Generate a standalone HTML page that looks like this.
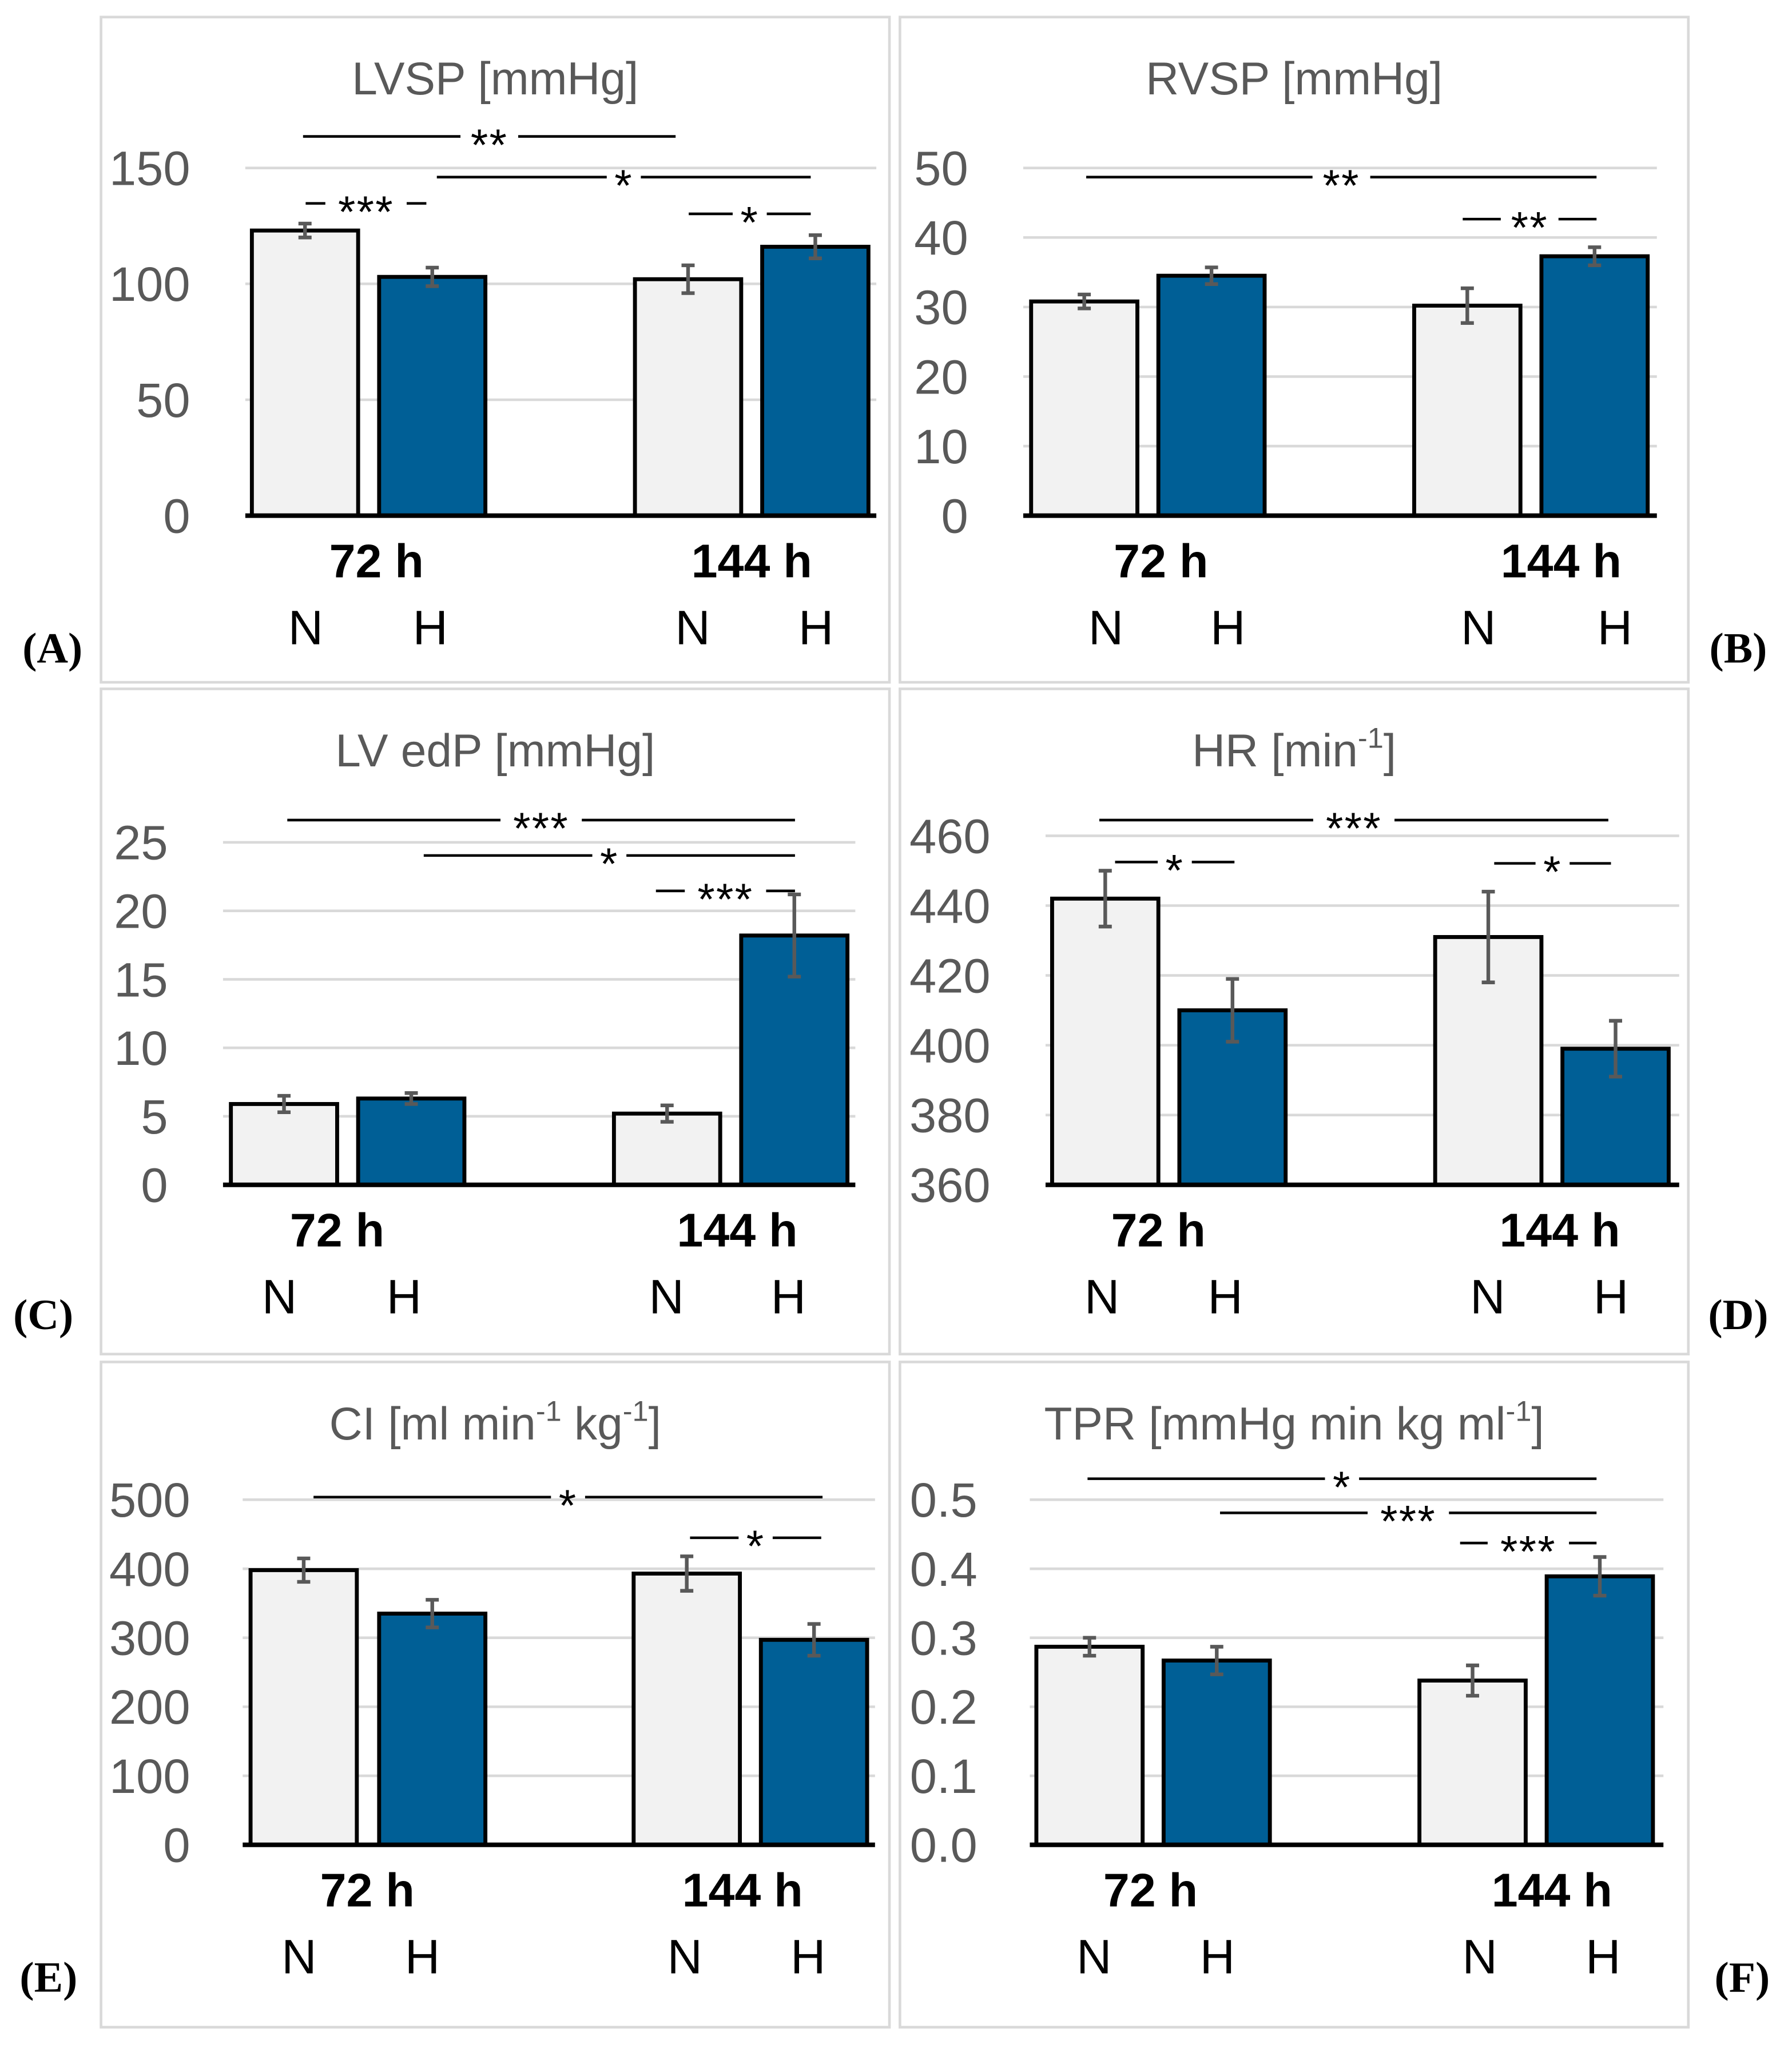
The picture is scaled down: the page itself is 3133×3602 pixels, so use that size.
<!DOCTYPE html>
<html><head><meta charset="utf-8"><style>
html,body{margin:0;padding:0;background:#fff;}
svg{display:block;}
</style></head><body>
<svg id="fig" width="3133" height="3602" viewBox="0 0 1366 1570" preserveAspectRatio="none" xmlns="http://www.w3.org/2000/svg" font-family="'Liberation Sans', sans-serif"></svg>
<script>
// ---- data ----
const groups = ["72 h", "144 h"];
const conditions = ["N", "H", "N", "H"];
const lvspValues = [123, 103, 102, 116];
const lvspErrors = [3, 4, 6, 5];
const rvspValues = [30.8, 34.5, 30.2, 37.3];
const rvspErrors = [1, 1.2, 2.5, 1.3];
const lvedpValues = [5.9, 6.3, 5.2, 18.2];
const lvedpErrors = [0.6, 0.4, 0.6, 3];
const hrValues = [442, 410, 431, 399];
const hrErrors = [8, 9, 13, 8];
const ciValues = [398, 335, 393, 297];
const ciErrors = [17, 20, 25, 23];
const tprValues = [0.287, 0.267, 0.238, 0.389];
const tprErrors = [0.013, 0.02, 0.022, 0.028];
const lvspTicks = [0, 50, 100, 150];
const rvspTicks = [0, 10, 20, 30, 40, 50];
const lvedpTicks = [0, 5, 10, 15, 20, 25];
const hrTicks = [360, 380, 400, 420, 440, 460];
const ciTicks = [0, 100, 200, 300, 400, 500];
const tprTicks = ["0.0", "0.1", "0.2", "0.3", "0.4", "0.5"];

const NS = "http://www.w3.org/2000/svg";
const svg = document.getElementById('fig');
function mk(tag, attrs, parent, text){
  const e = document.createElementNS(NS, tag);
  for (const k in attrs) e.setAttribute(k, attrs[k]);
  if (text !== undefined) e.textContent = text;
  (parent||svg).appendChild(e);
  return e;
}

const panels = [
 {id:"a", label:"(A)", lx:40, ly:505, title:"LVSP [mmHg]", fx:77, fy:13, px:187, pr:668, base:393, top:128, vmin:0, vmax:150, ticks:lvspTicks, vals:lvspValues, errs:lvspErrors, bars:[192,289,484,581], tickX:145, gx:[287,573], nx:[233,328,528,622], sig:[[231,515,104,"**"],[233,325,155,"***"],[333,618,135,"*"],[525,618,163,"*"]]},
 {id:"b", label:"(B)", lx:1325, ly:505, title:"RVSP [mmHg]", fx:686, fy:13, px:780, pr:1263, base:393, top:128, vmin:0, vmax:50, ticks:rvspTicks, vals:rvspValues, errs:rvspErrors, bars:[786,883,1078,1175], tickX:738, gx:[885,1190], nx:[843,936,1127,1231], sig:[[828,1217,135,"**"],[1115,1217,167,"**"]]},
 {id:"c", label:"(C)", lx:33, ly:1013, title:"LV edP [mmHg]", fx:77, fy:525, px:170, pr:652, base:903, top:642, vmin:0, vmax:25, ticks:lvedpTicks, vals:lvedpValues, errs:lvedpErrors, bars:[176,273,468,565], tickX:128, gx:[257,562], nx:[213,308,508,601], sig:[[219,606,625,"***"],[323,606,652,"*"],[500,606,679,"***"]]},
 {id:"d", label:"(D)", lx:1325, ly:1013, title:"HR [min", sup:"-1", tail:"]", fx:686, fy:525, px:797, pr:1280, base:903, top:637, vmin:360, vmax:460, ticks:hrTicks, vals:hrValues, errs:hrErrors, bars:[802,899,1094,1191], tickX:755, gx:[883,1189], nx:[840,934,1134,1228], sig:[[838,1226,625,"***"],[850,941,657,"*"],[1139,1228,658,"*"]]},
 {id:"e", label:"(E)", lx:37, ly:1518, title:"CI [ml min", sup:"-1", mid:" kg", sup2:"-1", tail:"]", fx:77, fy:1038, px:185, pr:667, base:1406, top:1143, vmin:0, vmax:500, ticks:ciTicks, vals:ciValues, errs:ciErrors, bars:[191,289,483,580], tickX:145, gx:[280,566], nx:[228,322,522,616], sig:[[239,627,1141,"*"],[526,626,1172,"*"]]},
 {id:"f", label:"(F)", lx:1328, ly:1518, title:"TPR [mmHg min kg ml", sup:"-1", tail:"]", fx:686, fy:1038, px:785, pr:1268, base:1406, top:1143, vmin:0, vmax:0.5, ticks:tprTicks, vals:tprValues, errs:tprErrors, bars:[790,887,1082,1179], tickX:745, gx:[877,1183], nx:[834,928,1128,1222], sig:[[829,1217,1127,"*"],[930,1217,1153,"***"],[1113,1217,1176,"***"]]}
];

panels.forEach(p => {
  const g = mk('g', {});
  
  
  const frame = mk('rect', {x:p.fx, y:p.fy, width:601, height:507, fill:'#fff', stroke:'#d9d9d9', 'stroke-width':2}, g);
  
  
  const yS = v => p.base - (Number(v) - p.vmin) / (p.vmax - p.vmin) * (p.base - p.top);
  p.ticks.forEach(t => {
    const y = yS(t);
    if (Number(t) !== p.vmin) {
      const gl = mk('line', {x1:p.px, x2:p.pr, y1:y, y2:y, stroke:'#d9d9d9', 'stroke-width':2}, g);
      
      
    }
    const tl = mk('text', {x:p.tickX, y:y+13, 'text-anchor':'end', 'font-size':37, fill:'#595959'}, g, String(t));
    
    
  });
  const tt = mk('text', {x:(p.fx+p.fx+601)/2, y:p.fy+59, 'text-anchor':'middle', 'font-size':35, fill:'#595959'}, g);
  
  
  mk('tspan', {}, tt, p.title);
  if (p.sup) mk('tspan', {'font-size':22, dy:-14}, tt, p.sup);
  if (p.mid) mk('tspan', {dy:14}, tt, p.mid);
  if (p.sup2) mk('tspan', {'font-size':22, dy:-14}, tt, p.sup2);
  if (p.tail) mk('tspan', {dy: p.sup ? 14 : 0}, tt, p.tail);
  const bw = 81;
  p.vals.forEach((v, i) => {
    const y = yS(v);
    const b = mk('rect', {x:p.bars[i], y:y, width:bw, height:p.base - y, fill: i%2 ? '#005f96' : '#f2f2f2', stroke:'#000', 'stroke-width':3}, g);
    
    
    const cx = p.bars[i] + bw/2, e = p.errs[i];
    const eb = mk('path', {d:`M${cx} ${yS(v+e)}V${yS(v-e)}M${cx-5} ${yS(v+e)}H${cx+5}M${cx-5} ${yS(v-e)}H${cx+5}`, stroke:'#595959', 'stroke-width':2.8, fill:'none'}, g);
    
    
    const nl = mk('text', {x:p.nx[i], y:p.base+98, 'text-anchor':'middle', 'font-size':37, fill:'#000'}, g, conditions[i]);
    
    
  });
  const ax = mk('line', {x1:p.px, x2:p.pr, y1:p.base, y2:p.base, stroke:'#000', 'stroke-width':3.5}, g);
  
  
  groups.forEach((gr, j) => {
    const gt = mk('text', {x:p.gx[j], y:p.base+47, 'text-anchor':'middle', 'font-size':36, 'font-weight':'bold', fill:'#000'}, g, gr);
    
    
  });
  p.sig.forEach(s => {
    const [x1, x2, y, st] = s;
    const mid = (x1 + x2) / 2, hw = st.length * 9 + 4;
    const sl = mk('path', {d:`M${x1} ${y}H${mid-hw}M${mid+hw} ${y}H${x2}`, stroke:'#000', 'stroke-width':2}, g);
    
    
    const stx = mk('text', {x:mid, y:y+18, 'text-anchor':'middle', 'font-size':34, 'letter-spacing':1, fill:'#000'}, g, st);
    
    
  });
  const pl = mk('text', {x:p.lx, y:p.ly, 'text-anchor':'middle', 'font-size':33, 'font-weight':'bold', 'font-family':"'Liberation Serif', serif", fill:'#000'}, svg, p.label);
  
  
});
</script>
</body></html>
